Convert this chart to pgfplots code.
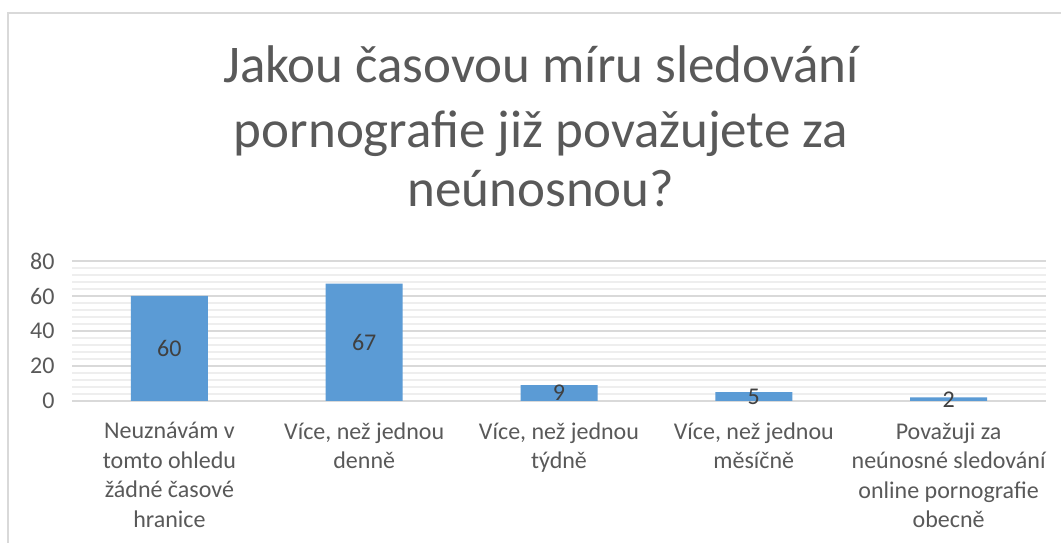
\documentclass[border=0pt]{standalone}
\usepackage{fontspec}
\setmainfont{Carlito}
\usepackage{pgfplots}
\usepackage{pgfplotstable}
\pgfplotsset{compat=1.18}
\definecolor{txt}{HTML}{595959}
\definecolor{dlab}{HTML}{404040}
\definecolor{barc}{HTML}{5B9BD5}
\definecolor{gridc}{HTML}{D9D9D9}
\definecolor{mgridc}{HTML}{EEEEEE}
\pgfplotstableread{
x y
0 60
1 67
2 9
3 5
4 2
}\datatab
\begin{document}
\begin{tikzpicture}[x=1bp,y=1bp]
\useasboundingbox (0,0) rectangle (1061,543);
\fill[white] (0,0) rectangle (1061,543);
\draw[gridc, line width=1.5bp] (8,0) -- (8,530) -- (1061,530);
\node[text=txt, font=\fontsize{53bp}{64bp}\selectfont, anchor=base, inner sep=0] at (541,460) {Jakou časovou míru sledování};
\node[text=txt, font=\fontsize{53bp}{64bp}\selectfont, anchor=base, inner sep=0] at (541,395) {pornografie již považujete za};
\node[text=txt, font=\fontsize{53bp}{64bp}\selectfont, anchor=base, inner sep=0] at (541,336) {neúnosnou?};
\begin{axis}[
  at={(72bp,142bp)}, anchor=south west,
  scale only axis, width=974bp, height=140bp,
  xmin=-0.5, xmax=4.5, ymin=0, ymax=80,
  ytick={0,20,...,80}, minor y tick num=4,
  ymajorgrids, yminorgrids,
  major grid style={gridc, line width=1.5bp},
  minor grid style={mgridc, line width=1.2bp},
  axis line style={draw=none}, tick style={draw=none},
  xtick={0,...,4},
  xticklabels={{Neuznávám v\\tomto ohledu\\žádné časové\\hranice},
               {Více, než jednou\\denně},
               {Více, než jednou\\týdně},
               {Více, než jednou\\měsíčně},
               {Považuji za\\neúnosné sledování\\online pornografie\\obecně}},
  xticklabel style={align=center, font=\fontsize{24bp}{29.5bp}\selectfont, text=txt, anchor=north, yshift=-18bp},
  yticklabel style={font=\fontsize{24bp}{29bp}\selectfont, text=txt, xshift=-14bp},
  /pgf/number format/assume math mode=true,
  clip=false,
]
\addplot[ybar, bar width=77bp, fill=barc, draw=none] table[x=x, y=y] {\datatab};
\addplot[draw=none, mark=none, nodes near coords, point meta=explicit symbolic,
  every node near coord/.append style={font=\fontsize{24bp}{29bp}\selectfont, text=dlab, anchor=center}]
  table[x=x, y expr=\thisrow{y}/2, meta=y] {\datatab};
\end{axis}
\end{tikzpicture}
\end{document}
